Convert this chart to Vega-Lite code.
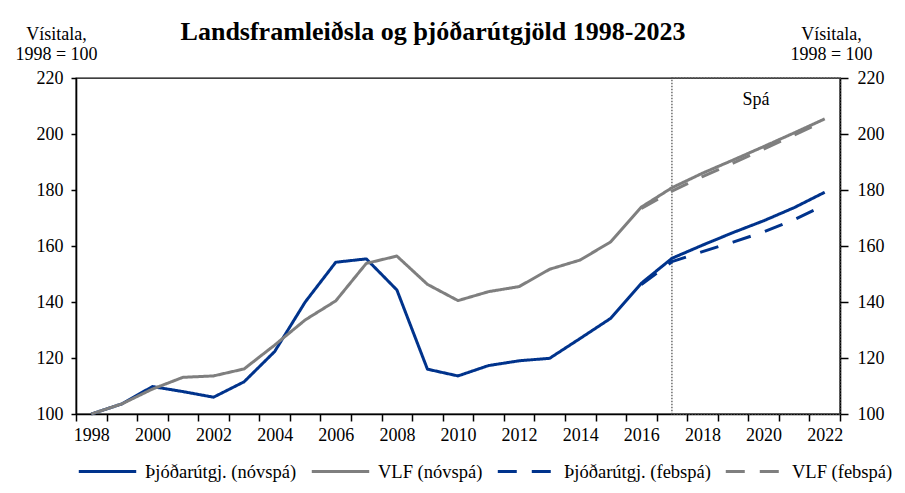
{
  "$schema": "https://vega.github.io/schema/vega-lite/v6.json",
  "width": 764,
  "height": 336,
  "autosize": {"type": "none"},
  "padding": {"left": 76, "top": 78, "right": 65, "bottom": 79},
  "background": "white",
  "title": {
    "text": "Landsframleiðsla og þjóðarútgjöld 1998-2023",
    "font": "Liberation Serif",
    "fontSize": 26,
    "fontWeight": "bold",
    "color": "#000000",
    "anchor": "middle",
    "frame": "group",
    "dx": -25,
    "dy": 24
  },
  "config": {
    "view": {"stroke": "#000000", "strokeWidth": 1.3},
    "font": "Liberation Serif",
    "axis": {
      "labelFont": "Liberation Serif",
      "labelFontSize": 18,
      "labelColor": "#000000",
      "titleFont": "Liberation Serif",
      "titleFontSize": 18,
      "titleFontWeight": "normal",
      "titleColor": "#000000",
      "domainColor": "#000000",
      "domainWidth": 1.6,
      "tickColor": "#000000",
      "tickWidth": 1.5,
      "grid": false
    }
  },
  "datasets": {
    "series": [
      {"year": 1998, "series": "Þjóðarútgj. (nóvspá)", "value": 100},
      {"year": 1999, "series": "Þjóðarútgj. (nóvspá)", "value": 103.6},
      {"year": 2000, "series": "Þjóðarútgj. (nóvspá)", "value": 109.8},
      {"year": 2001, "series": "Þjóðarútgj. (nóvspá)", "value": 108},
      {"year": 2002, "series": "Þjóðarútgj. (nóvspá)", "value": 106},
      {"year": 2003, "series": "Þjóðarútgj. (nóvspá)", "value": 111.5},
      {"year": 2004, "series": "Þjóðarútgj. (nóvspá)", "value": 122.3},
      {"year": 2005, "series": "Þjóðarútgj. (nóvspá)", "value": 140},
      {"year": 2006, "series": "Þjóðarútgj. (nóvspá)", "value": 154.2},
      {"year": 2007, "series": "Þjóðarútgj. (nóvspá)", "value": 155.4},
      {"year": 2008, "series": "Þjóðarútgj. (nóvspá)", "value": 144.3},
      {"year": 2009, "series": "Þjóðarútgj. (nóvspá)", "value": 116},
      {"year": 2010, "series": "Þjóðarútgj. (nóvspá)", "value": 113.6},
      {"year": 2011, "series": "Þjóðarútgj. (nóvspá)", "value": 117.3},
      {"year": 2012, "series": "Þjóðarútgj. (nóvspá)", "value": 119},
      {"year": 2013, "series": "Þjóðarútgj. (nóvspá)", "value": 119.9},
      {"year": 2014, "series": "Þjóðarútgj. (nóvspá)", "value": 127},
      {"year": 2015, "series": "Þjóðarútgj. (nóvspá)", "value": 134.2},
      {"year": 2016, "series": "Þjóðarútgj. (nóvspá)", "value": 146.7},
      {"year": 2017, "series": "Þjóðarútgj. (nóvspá)", "value": 155.6},
      {"year": 2018, "series": "Þjóðarútgj. (nóvspá)", "value": 160.3},
      {"year": 2019, "series": "Þjóðarútgj. (nóvspá)", "value": 164.8},
      {"year": 2020, "series": "Þjóðarútgj. (nóvspá)", "value": 169},
      {"year": 2021, "series": "Þjóðarútgj. (nóvspá)", "value": 173.7},
      {"year": 2022, "series": "Þjóðarútgj. (nóvspá)", "value": 179.2},
      {"year": 1998, "series": "VLF (nóvspá)", "value": 100},
      {"year": 1999, "series": "VLF (nóvspá)", "value": 103.6},
      {"year": 2000, "series": "VLF (nóvspá)", "value": 108.9},
      {"year": 2001, "series": "VLF (nóvspá)", "value": 113.1},
      {"year": 2002, "series": "VLF (nóvspá)", "value": 113.6},
      {"year": 2003, "series": "VLF (nóvspá)", "value": 116.1},
      {"year": 2004, "series": "VLF (nóvspá)", "value": 124.6},
      {"year": 2005, "series": "VLF (nóvspá)", "value": 133.6},
      {"year": 2006, "series": "VLF (nóvspá)", "value": 140.4},
      {"year": 2007, "series": "VLF (nóvspá)", "value": 153.8},
      {"year": 2008, "series": "VLF (nóvspá)", "value": 156.4},
      {"year": 2009, "series": "VLF (nóvspá)", "value": 146.3},
      {"year": 2010, "series": "VLF (nóvspá)", "value": 140.5},
      {"year": 2011, "series": "VLF (nóvspá)", "value": 143.7},
      {"year": 2012, "series": "VLF (nóvspá)", "value": 145.5},
      {"year": 2013, "series": "VLF (nóvspá)", "value": 151.7},
      {"year": 2014, "series": "VLF (nóvspá)", "value": 155},
      {"year": 2015, "series": "VLF (nóvspá)", "value": 161.5},
      {"year": 2016, "series": "VLF (nóvspá)", "value": 173.9},
      {"year": 2017, "series": "VLF (nóvspá)", "value": 180.8},
      {"year": 2018, "series": "VLF (nóvspá)", "value": 186},
      {"year": 2019, "series": "VLF (nóvspá)", "value": 190.7},
      {"year": 2020, "series": "VLF (nóvspá)", "value": 195.5},
      {"year": 2021, "series": "VLF (nóvspá)", "value": 200.4},
      {"year": 2022, "series": "VLF (nóvspá)", "value": 205.4},
      {"year": 2016, "series": "Þjóðarútgj. (febspá)", "value": 146.2},
      {"year": 2017, "series": "Þjóðarútgj. (febspá)", "value": 154.4},
      {"year": 2018, "series": "Þjóðarútgj. (febspá)", "value": 158},
      {"year": 2019, "series": "Þjóðarútgj. (febspá)", "value": 161.4},
      {"year": 2020, "series": "Þjóðarútgj. (febspá)", "value": 165},
      {"year": 2021, "series": "Þjóðarútgj. (febspá)", "value": 169.4},
      {"year": 2022, "series": "Þjóðarútgj. (febspá)", "value": 174.6},
      {"year": 2016, "series": "VLF (febspá)", "value": 173.4},
      {"year": 2017, "series": "VLF (febspá)", "value": 179.6},
      {"year": 2018, "series": "VLF (febspá)", "value": 184.8},
      {"year": 2019, "series": "VLF (febspá)", "value": 189.6},
      {"year": 2020, "series": "VLF (febspá)", "value": 194.6},
      {"year": 2021, "series": "VLF (febspá)", "value": 199.6},
      {"year": 2022, "series": "VLF (febspá)", "value": 204.8}
    ],
    "forecast": [
      {"start": 2017, "end": 2022.5, "top": 220, "bottom": 100, "labelYear": 2019.75, "labelValue": 212, "label": "Spá"}
    ]
  },
  "resolve": {"scale": {"x": "independent"}, "axis": {"y": "independent"}},
  "layer": [
    {
      "data": {"name": "forecast"},
      "mark": {"type": "rect", "fillOpacity": 0, "stroke": "#555555", "strokeWidth": 1.3, "strokeDash": [1.5, 1.5]},
      "encoding": {
        "x": {
          "field": "start",
          "type": "quantitative",
          "scale": {"domain": [1997.5, 2022.5], "nice": false, "zero": false},
          "axis": null
        },
        "x2": {"field": "end"},
        "y": {
          "field": "top",
          "type": "quantitative",
          "scale": {"domain": [100, 220], "nice": false, "zero": false},
          "axis": {
            "orient": "right",
            "values": [100, 120, 140, 160, 180, 200, 220],
            "title": ["Vísitala,", "1998 = 100"],
            "titleAngle": 0,
            "titleAlign": "center",
            "titleBaseline": "alphabetic",
            "titleX": -9,
            "titleY": -39,
            "titleLineHeight": 20,
            "tickSize": 8,
            "labelPadding": 9
          }
        },
        "y2": {"field": "bottom"}
      }
    },
    {
      "data": {"name": "forecast"},
      "mark": {"type": "text", "fontSize": 18, "font": "Liberation Serif", "color": "#000000", "align": "center", "baseline": "middle"},
      "encoding": {
        "x": {
          "field": "labelYear",
          "type": "quantitative",
          "scale": {"domain": [1997.5, 2022.5], "nice": false, "zero": false},
          "axis": null
        },
        "y": {"field": "labelValue", "type": "quantitative", "axis": null},
        "text": {"field": "label"}
      }
    },
    {
      "data": {"name": "series"},
      "mark": {"type": "line", "strokeCap": "butt", "strokeJoin": "round"},
      "encoding": {
        "x": {
          "field": "year",
          "type": "ordinal",
          "bandPosition": 0.5,
          "scale": {"type": "band", "paddingInner": 0, "paddingOuter": 0},
          "axis": {
            "title": null,
            "tickBand": "extent",
            "labelExpr": "datum.value % 2 == 0 ? datum.label : ''",
            "labelAngle": 0,
            "tickSize": 7,
            "labelPadding": 5,
            "labelOverlap": false
          }
        },
        "y": {
          "field": "value",
          "type": "quantitative",
          "axis": {
            "orient": "left",
            "values": [100, 120, 140, 160, 180, 200, 220],
            "title": ["Vísitala,", "1998 = 100"],
            "titleAngle": 0,
            "titleAlign": "center",
            "titleBaseline": "alphabetic",
            "titleX": -20,
            "titleY": -39,
            "titleLineHeight": 20,
            "tickSize": 5,
            "labelPadding": 8
          }
        },
        "color": {
          "field": "series",
          "type": "nominal",
          "scale": {
            "domain": ["Þjóðarútgj. (nóvspá)", "VLF (nóvspá)", "Þjóðarútgj. (febspá)", "VLF (febspá)"],
            "range": ["#00338C", "#7F7F7F", "#00338C", "#7F7F7F"]
          },
          "legend": {
            "title": null,
            "orient": "none",
            "legendX": 1,
            "legendY": 363,
            "direction": "horizontal",
            "columns": 4,
            "symbolType": "stroke",
            "symbolSize": 3300,
            "symbolStrokeWidth": 4,
            "labelFont": "Liberation Serif",
            "labelFontSize": 18.5,
            "labelColor": "#000000",
            "labelOffset": 7,
            "columnPadding": 8,
            "padding": 0,
            "labelLimit": 300
          }
        },
        "strokeDash": {
          "field": "series",
          "type": "nominal",
          "scale": {
            "domain": ["Þjóðarútgj. (nóvspá)", "VLF (nóvspá)", "Þjóðarútgj. (febspá)", "VLF (febspá)"],
            "range": [[1, 0], [1, 0], [19, 15], [19, 15]]
          },
          "legend": {
            "title": null,
            "orient": "none",
            "legendX": 1,
            "legendY": 363,
            "direction": "horizontal",
            "columns": 4,
            "symbolType": "stroke",
            "symbolSize": 3300,
            "symbolStrokeWidth": 4,
            "labelFont": "Liberation Serif",
            "labelFontSize": 18.5,
            "labelColor": "#000000",
            "labelOffset": 7,
            "columnPadding": 8,
            "padding": 0,
            "labelLimit": 300
          }
        },
        "strokeWidth": {
          "field": "series",
          "type": "nominal",
          "scale": {
            "domain": ["Þjóðarútgj. (nóvspá)", "VLF (nóvspá)", "Þjóðarútgj. (febspá)", "VLF (febspá)"],
            "range": [3, 3, 5, 5]
          },
          "legend": null
        }
      }
    }
  ]
}
